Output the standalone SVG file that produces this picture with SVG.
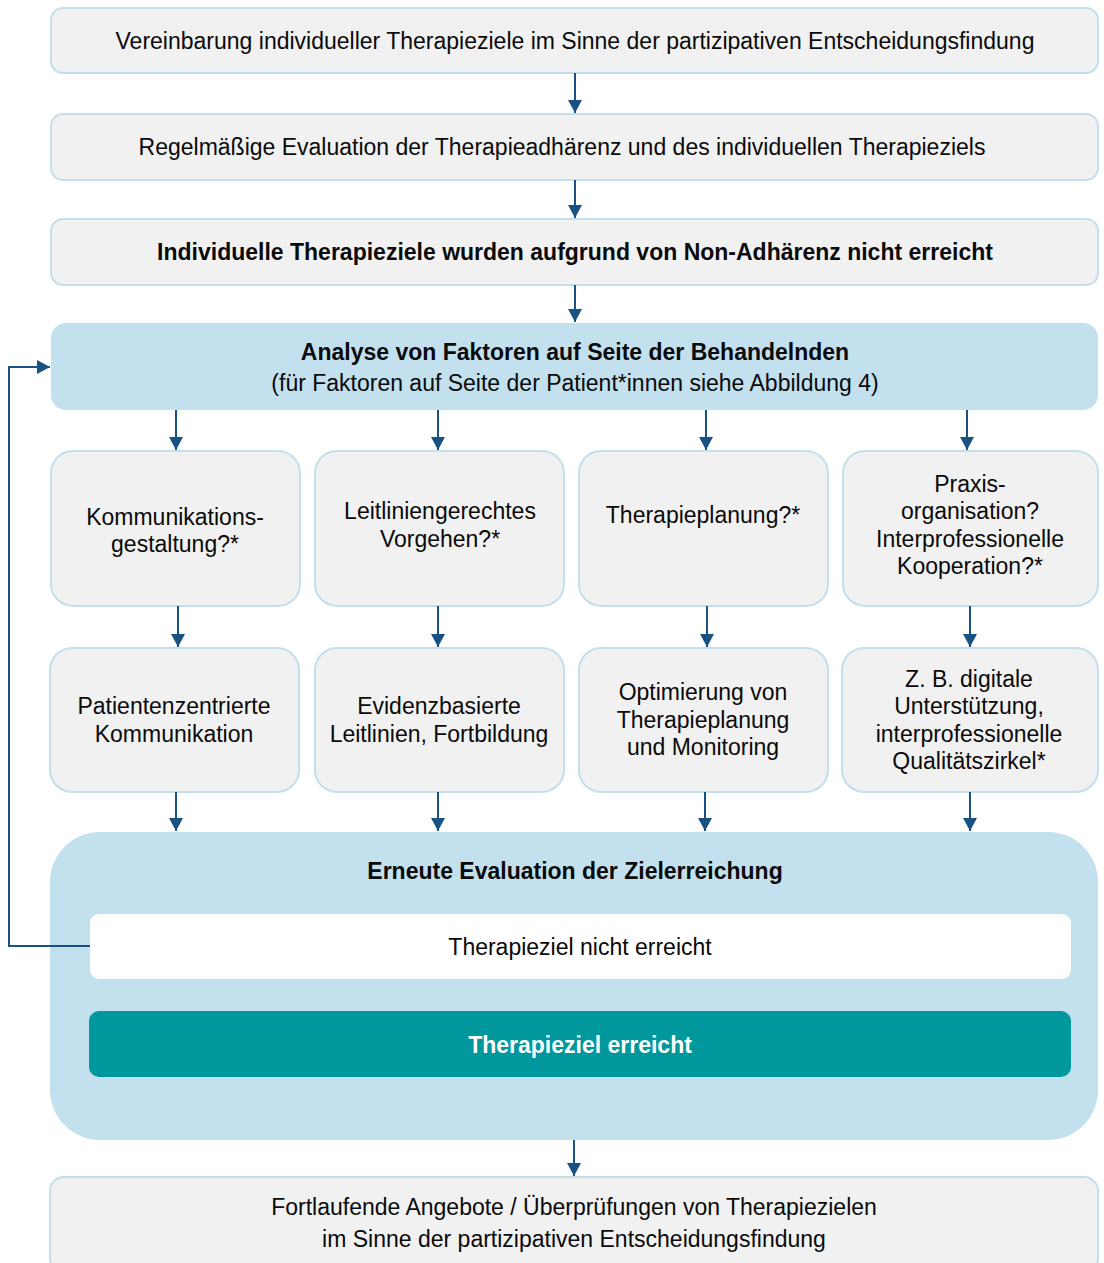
<svg xmlns="http://www.w3.org/2000/svg" width="1104" height="1263" viewBox="0 0 1104 1263">
<defs>
<marker id="ah" viewBox="0 0 13 14" refX="13" refY="7" markerWidth="13" markerHeight="14" markerUnits="userSpaceOnUse" orient="auto">
<path d="M0,0 L13,7 L0,14 Z" fill="#1a5183"/>
</marker>
<style>
.g{fill:#f1f1f1;stroke:#c3dfec;stroke-width:2}
.b{fill:#c2e0ed}
.t{font-family:"Liberation Sans",Arial,sans-serif;font-size:23px;fill:#0a0a0a;text-anchor:middle}
.bd{font-weight:bold}
.c{fill:none;stroke:#1a5183;stroke-width:2;marker-end:url(#ah)}
</style>
</defs>
<rect width="1104" height="1263" fill="#fff"/>
<g id="n1"><rect class="g" x="51" y="8" width="1047" height="65" rx="12"/><text class="t" x="575" y="49">Vereinbarung individueller Therapieziele im Sinne der partizipativen Entscheidungsfindung</text></g>
<g id="n2"><rect class="g" x="51" y="114" width="1047" height="66" rx="12"/><text class="t" x="562" y="155">Regelmäßige Evaluation der Therapieadhärenz und des individuellen Therapieziels</text></g>
<g id="n3"><rect class="g" x="51" y="219" width="1047" height="66" rx="12"/><text class="t bd" x="575" y="260">Individuelle Therapieziele wurden aufgrund von Non-Adhärenz nicht erreicht</text></g>
<g id="n4"><rect class="b" x="51" y="323" width="1047" height="87" rx="15"/><text class="t bd" x="575" y="360">Analyse von Faktoren auf Seite der Behandelnden</text><text class="t" x="575" y="391">(für Faktoren auf Seite der Patient*innen siehe Abbildung 4)</text></g>
<g id="r1a"><rect class="g" x="51" y="451" width="249" height="155" rx="22"/><text class="t" x="175" y="525">Kommunikations-</text><text class="t" x="175" y="552">gestaltung?*</text></g>
<g id="r1b"><rect class="g" x="315" y="451" width="249" height="155" rx="22"/><text class="t" x="440" y="519">Leitliniengerechtes</text><text class="t" x="440" y="547">Vorgehen?*</text></g>
<g id="r1c"><rect class="g" x="579" y="451" width="249" height="155" rx="22"/><text class="t" x="703" y="523">Therapieplanung?*</text></g>
<g id="r1d"><rect class="g" x="843" y="451" width="255" height="155" rx="22"/><text class="t" x="970" y="492">Praxis-</text><text class="t" x="970" y="519">organisation?</text><text class="t" x="970" y="547">Interprofessionelle</text><text class="t" x="970" y="574">Kooperation?*</text></g>
<g id="r2a"><rect class="g" x="50" y="648" width="249" height="144" rx="22"/><text class="t" x="174" y="714">Patientenzentrierte</text><text class="t" x="174" y="742">Kommunikation</text></g>
<g id="r2b"><rect class="g" x="315" y="648" width="249" height="144" rx="22"/><text class="t" x="439" y="714">Evidenzbasierte</text><text class="t" x="439" y="742">Leitlinien, Fortbildung</text></g>
<g id="r2c"><rect class="g" x="579" y="648" width="249" height="144" rx="22"/><text class="t" x="703" y="700">Optimierung von</text><text class="t" x="703" y="728">Therapieplanung</text><text class="t" x="703" y="755">und Monitoring</text></g>
<g id="r2d"><rect class="g" x="842" y="648" width="256" height="144" rx="22"/><text class="t" x="969" y="687">Z. B. digitale</text><text class="t" x="969" y="714">Unterstützung,</text><text class="t" x="969" y="742">interprofessionelle</text><text class="t" x="969" y="769">Qualitätszirkel*</text></g>
<g id="eval"><rect class="b" x="50" y="832" width="1048" height="308" rx="50"/><text class="t bd" x="575" y="879">Erneute Evaluation der Zielerreichung</text></g>
<g id="nicht"><rect fill="#fff" x="90" y="914" width="981" height="65" rx="9"/><text class="t" x="580" y="955">Therapieziel nicht erreicht</text></g>
<g id="erreicht"><rect fill="#00979d" x="89" y="1011" width="982" height="66" rx="10"/><text class="t bd" x="580" y="1053" style="fill:#fff">Therapieziel erreicht</text></g>
<g id="n5"><rect class="g" x="50" y="1177" width="1048" height="95" rx="14"/><text class="t" x="574" y="1215">Fortlaufende Angebote / Überprüfungen von Therapiezielen</text><text class="t" x="574" y="1247">im Sinne der partizipativen Entscheidungsfindung</text></g>
<g id="connectors">
<line class="c" x1="575" y1="73" x2="575" y2="113"/>
<line class="c" x1="575" y1="180" x2="575" y2="218"/>
<line class="c" x1="575" y1="285" x2="575" y2="322"/>
<line class="c" x1="176" y1="410" x2="176" y2="450"/>
<line class="c" x1="438" y1="410" x2="438" y2="450"/>
<line class="c" x1="706" y1="410" x2="706" y2="450"/>
<line class="c" x1="967" y1="410" x2="967" y2="450"/>
<line class="c" x1="178" y1="606" x2="178" y2="647"/>
<line class="c" x1="438" y1="606" x2="438" y2="647"/>
<line class="c" x1="707" y1="606" x2="707" y2="647"/>
<line class="c" x1="970" y1="606" x2="970" y2="647"/>
<line class="c" x1="176" y1="792" x2="176" y2="831"/>
<line class="c" x1="438" y1="792" x2="438" y2="831"/>
<line class="c" x1="705" y1="792" x2="705" y2="831"/>
<line class="c" x1="970" y1="792" x2="970" y2="831"/>
<line class="c" x1="574" y1="1140" x2="574" y2="1176"/>
<polyline class="c" points="90,946 9,946 9,367 50,367"/>
</g>
</svg>
